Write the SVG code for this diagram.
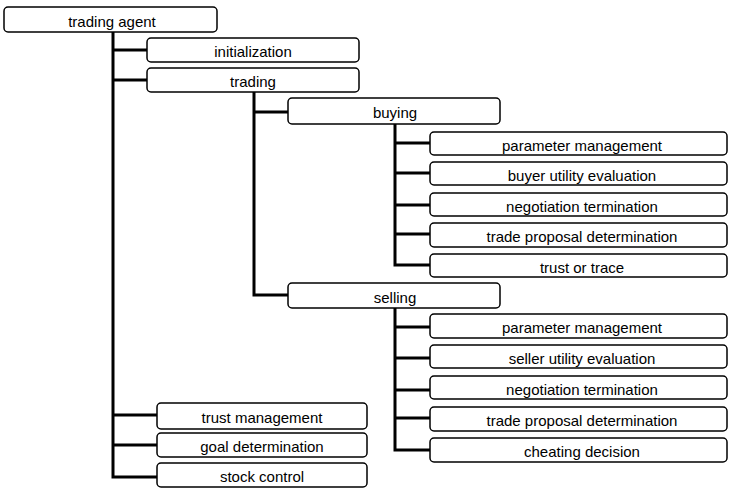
<svg xmlns="http://www.w3.org/2000/svg" width="729" height="489" viewBox="0 0 729 489">
<style>
.box{fill:#fff;stroke:#000;stroke-width:1.5}
.t{font-family:"Liberation Sans",Arial,sans-serif;font-size:15px;text-anchor:middle;fill:#000}
.c{fill:none;stroke:#000;stroke-width:3;stroke-linejoin:miter}
</style>
<rect width="729" height="489" fill="#fff"/>
<g id="connectors">
<path class="c" d="M113 32 V477 H157 M113 50 H147 M113 80 H147 M113 415 H157 M113 445 H157"/>
<path class="c" d="M254 92 V295 H288 M254 112 H288"/>
<path class="c" d="M395 124 V265 H430 M395 143 H430 M395 173 H430 M395 205 H430 M395 234 H430"/>
<path class="c" d="M395 308 V450 H430 M395 327 H430 M395 358 H430 M395 390 H430 M395 418 H430"/>
</g>
<g id="n-trading-agent"><rect class="box" x="4" y="7" width="213" height="25" rx="4"/><text class="t" x="112" y="27">trading agent</text></g>
<g id="n-initialization"><rect class="box" x="147" y="38" width="212" height="24" rx="4"/><text class="t" x="253" y="57">initialization</text></g>
<g id="n-trading"><rect class="box" x="147" y="68" width="212" height="24" rx="4"/><text class="t" x="253" y="87">trading</text></g>
<g id="n-buying"><rect class="box" x="288" y="98" width="212" height="26" rx="4"/><text class="t" x="395" y="118">buying</text></g>
<g id="n-b-param"><rect class="box" x="430" y="132" width="297" height="23" rx="4"/><text class="t" x="582" y="151">parameter management</text></g>
<g id="n-b-utility"><rect class="box" x="430" y="162" width="297" height="23" rx="4"/><text class="t" x="582" y="181">buyer utility evaluation</text></g>
<g id="n-b-negotiation"><rect class="box" x="430" y="193" width="297" height="23" rx="4"/><text class="t" x="582" y="212">negotiation termination</text></g>
<g id="n-b-proposal"><rect class="box" x="430" y="223" width="297" height="24" rx="4"/><text class="t" x="582" y="242">trade proposal determination</text></g>
<g id="n-b-trust"><rect class="box" x="430" y="254" width="297" height="23" rx="4"/><text class="t" x="582" y="273">trust or trace</text></g>
<g id="n-selling"><rect class="box" x="288" y="283" width="212" height="25" rx="4"/><text class="t" x="395" y="303">selling</text></g>
<g id="n-s-param"><rect class="box" x="430" y="314" width="297" height="24" rx="4"/><text class="t" x="582" y="333">parameter management</text></g>
<g id="n-s-utility"><rect class="box" x="430" y="345" width="297" height="23" rx="4"/><text class="t" x="582" y="364">seller utility evaluation</text></g>
<g id="n-s-negotiation"><rect class="box" x="430" y="376" width="297" height="23" rx="4"/><text class="t" x="582" y="395">negotiation termination</text></g>
<g id="n-s-proposal"><rect class="box" x="430" y="407" width="297" height="24" rx="4"/><text class="t" x="582" y="426">trade proposal determination</text></g>
<g id="n-s-cheating"><rect class="box" x="430" y="438" width="297" height="24" rx="4"/><text class="t" x="582" y="457">cheating decision</text></g>
<g id="n-trust-management"><rect class="box" x="157" y="403" width="210" height="26" rx="4"/><text class="t" x="262" y="423">trust management</text></g>
<g id="n-goal"><rect class="box" x="157" y="433" width="210" height="24" rx="4"/><text class="t" x="262" y="452">goal determination</text></g>
<g id="n-stock"><rect class="box" x="157" y="463" width="210" height="24" rx="4"/><text class="t" x="262" y="482">stock control</text></g>
</svg>
